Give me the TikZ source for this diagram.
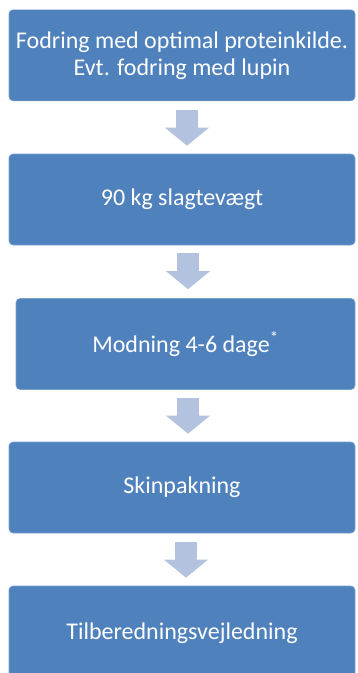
\documentclass[tikz,border=0pt]{standalone}
\usepackage{fontspec}
\setmainfont{Carlito}
\usetikzlibrary{arrows.meta, calc}
\definecolor{boxblue}{HTML}{4F81BD}
\definecolor{arrowblue}{HTML}{B3C3DF}

\begin{document}
\begin{tikzpicture}[x=1pt, y=-1pt, stepbox/.style={rectangle, rounded corners=4pt, fill=boxblue, draw=boxblue!75!white, line width=0.6pt, text=white, align=center, font=\fontsize{24}{27}\selectfont, minimum height=91pt}, flow/.style={-{Triangle[width=43pt, length=18pt]}, line width=22pt, draw=arrowblue}]
\useasboundingbox (0,0) rectangle (358,673);

\node[stepbox, minimum width=346pt] (feed) at (182,55.3) {Fodring med optimal proteinkilde.\\Evt. fodring med lupin};
\node[stepbox, minimum width=346pt] (weight) at (182,199.5) {90 kg slagtevægt};
\node[stepbox, minimum width=339pt] (ripen) at (185.5,344) {Modning 4-6 dage\textsuperscript{*}};
\node[stepbox, minimum width=346pt] (pack) at (182,487.5) {Skinpakning};
\node[stepbox, minimum width=346pt, minimum height=94pt] (guide) at (182,633) {Tilberedningsvejledning};

\draw[flow] ($(feed.south)+(5,9)$) -- ($(weight.north)+(5,-8)$);
\draw[flow] ($(weight.south)+(6,8)$) -- ($(ripen.north)+(2.5,-9)$);
\draw[flow] ($(ripen.south)+(2.5,8)$) -- ($(pack.north)+(6,-8)$);
\draw[flow] ($(pack.south)+(4,9)$) -- ($(guide.north)+(4,-8)$);
\end{tikzpicture}
\end{document}
